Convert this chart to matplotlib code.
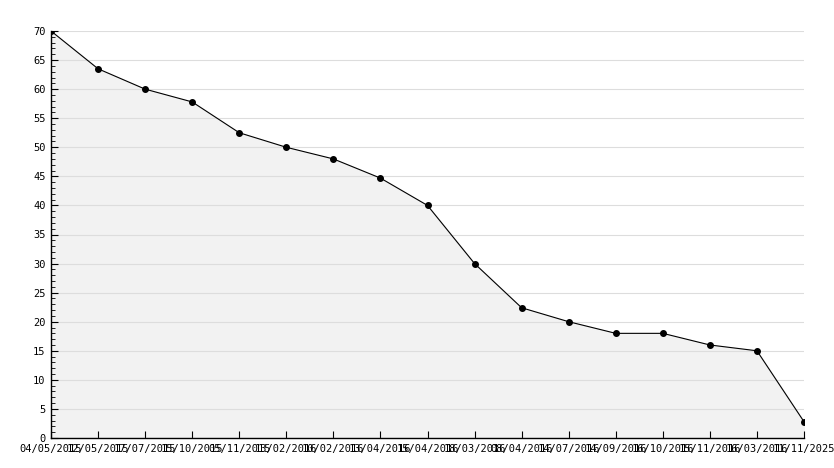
import matplotlib
matplotlib.use("Agg")
import matplotlib.pyplot as plt
from matplotlib.ticker import MultipleLocator

dates = ["04/05/2015", "12/05/2015", "17/07/2015", "15/10/2015", "05/11/2015",
         "13/02/2016", "10/02/2016", "13/04/2016", "15/04/2016", "18/03/2016",
         "08/04/2016", "14/07/2016", "14/09/2016", "16/10/2016", "15/11/2016",
         "16/03/2016", "11/11/2025"]
values = [70, 63.5, 60, 57.8, 52.5, 50, 48, 44.7, 40, 30, 22.4, 20, 18, 18, 16, 15, 2.8]

fig = plt.figure(figsize=(8.34, 4.68), dpi=100)
ax = fig.add_axes([51 / 834, 30 / 468, 753 / 834, 407 / 468])

x = list(range(len(values)))
ax.fill_between(x, values, 0, color="#f2f2f2", zorder=1)
ax.plot(x, values, color="black", lw=0.8, marker="o", ms=4, zorder=3)

ax.set_xlim(0, len(values) - 1)
ax.set_ylim(0, 70)
ax.set_xticks(x)
ax.set_xticklabels(dates)
ax.yaxis.set_major_locator(MultipleLocator(5))
ax.yaxis.set_minor_locator(MultipleLocator(1))
ax.grid(axis="y", color="#dddddd", lw=0.8, zorder=0)

for s in ("top", "right"):
    ax.spines[s].set_visible(False)
for s in ("left", "bottom"):
    ax.spines[s].set_linewidth(1.0)

ax.tick_params(axis="both", direction="in", labelsize=7.5, length=5, pad=4)
ax.tick_params(axis="y", which="minor", direction="in", length=3)
for lab in ax.get_xticklabels() + ax.get_yticklabels():
    lab.set_fontfamily("DejaVu Sans Mono")

fig.savefig("out.png", dpi=100)
